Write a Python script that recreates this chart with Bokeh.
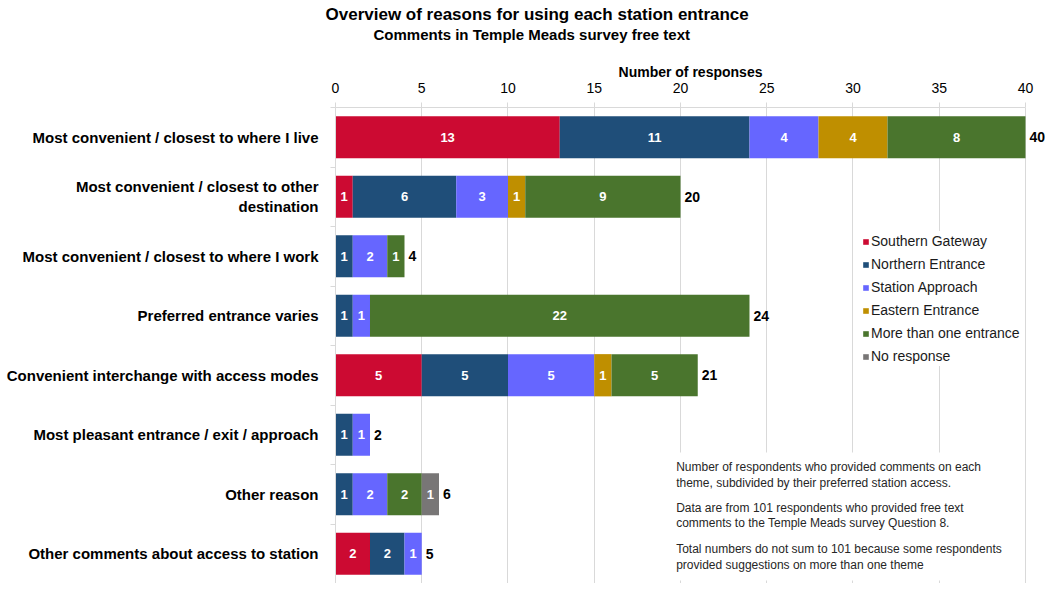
from bokeh.plotting import figure
from bokeh.models import (Range1d, FixedTicker, ColumnDataSource, Label,
                          BoxAnnotation, Title)
from bokeh.core.properties import value
from bokeh.embed import file_html
from bokeh.resources import INLINE

# ---------------- data ----------------
categories = [
    "Most convenient / closest to where I live",
    "Most convenient / closest to other\ndestination",
    "Most convenient / closest to where I work",
    "Preferred entrance varies",
    "Convenient interchange with access modes",
    "Most pleasant entrance / exit / approach",
    "Other reason",
    "Other comments about access to station",
]
series_names = ["Southern Gateway", "Northern Entrance", "Station Approach",
                "Eastern Entrance", "More than one entrance", "No response"]
southern = [13, 1, 0, 0, 5, 0, 0, 2]
northern = [11, 6, 1, 1, 5, 1, 1, 2]
station = [4, 3, 2, 1, 5, 1, 2, 1]
eastern = [4, 1, 0, 0, 1, 0, 0, 0]
more_than_one = [8, 9, 1, 22, 5, 0, 2, 0]
no_response = [0, 0, 0, 0, 0, 0, 1, 0]
series_values = [southern, northern, station, eastern, more_than_one, no_response]
colors = ["#CC0A32", "#1F4E79", "#6666FF", "#BF8F00", "#4A752D", "#787676"]
x_ticks = [0, 5, 10, 15, 20, 25, 30, 35, 40]
note_lines = [
    "Number of respondents who provided comments on each",
    "theme, subdivided by their preferred station access.",
    "Data are from 101 respondents who provided free text",
    "comments to the Temple Meads survey Question 8.",
    "Total numbers do not sum to 101 because some respondents",
    "provided suggestions on more than one theme",
]

n = len(categories)
ypos = [n - i - 0.5 for i in range(n)]

FONT = "Liberation Sans"
GRID = "#d9d9d9"

p = figure(width=1045, height=583, x_range=Range1d(0, 41.16), y_range=Range1d(0, n),
           x_axis_location="above", output_backend="svg", toolbar_location=None,
           title=None, min_border_left=335, min_border_right=0,
           min_border_bottom=0, min_border_top=107)
p.outline_line_color = None
p.background_fill_color = "white"
p.border_fill_color = "white"

# titles (spacer, subtitle, main title stacked outward from the axis)
spacer = Title(text=" ", text_font_size="1px", standoff=15)
sub = Title(text="Comments in Temple Meads survey free text", align="left", offset=38,
            text_font=FONT, text_font_size="15px", text_font_style="bold",
            text_color="#000000", standoff=0)
main = Title(text="Overview of reasons for using each station entrance", align="left",
             offset=-10, text_font=FONT, text_font_size="17px", text_font_style="bold",
             text_color="#000000", standoff=0)
p.add_layout(spacer, "above")
p.add_layout(sub, "above")
p.add_layout(main, "above")

# x axis
xa = p.xaxis[0]
xa.ticker = FixedTicker(ticks=x_ticks)
xa.bounds = (0, 40)
xa.axis_label = "Number of responses"
xa.axis_label_text_font = FONT
xa.axis_label_text_font_size = "14px"
xa.axis_label_text_font_style = "bold"
xa.axis_label_text_color = "#000000"
xa.axis_label_standoff = 0
xa.major_label_text_font = FONT
xa.major_label_text_font_size = "14px"
xa.major_label_text_color = "#000000"
xa.major_label_standoff = 10
xa.axis_line_color = GRID
xa.major_tick_line_color = GRID
xa.major_tick_out = 5
xa.major_tick_in = 0
xa.minor_tick_line_color = None

# y axis
ya = p.yaxis[0]
ya.ticker = FixedTicker(ticks=ypos, minor_ticks=list(range(n + 1)))
ya.major_label_overrides = {y: c for y, c in zip(ypos, categories)}
ya.major_label_text_font = FONT
ya.major_label_text_font_size = "15px"
ya.major_label_text_font_style = "bold"
ya.major_label_text_color = "#000000"
ya.major_label_standoff = 12
ya.major_tick_line_color = None
ya.major_tick_out = 0
ya.major_tick_in = 0
ya.minor_tick_line_color = GRID
ya.minor_tick_out = 5
ya.minor_tick_in = 0
ya.axis_line_color = GRID

p.xgrid.grid_line_color = GRID
p.xgrid.ticker = FixedTicker(ticks=x_ticks)
p.ygrid.grid_line_color = None

# stacked bars
cum = [0] * n
lab_x, lab_y, lab_t = [], [], []
for name, vals, col in zip(series_names, series_values, colors):
    L, R, Y = [], [], []
    for i, v in enumerate(vals):
        if v > 0:
            L.append(cum[i]); R.append(cum[i] + v); Y.append(ypos[i])
            lab_x.append(cum[i] + v / 2); lab_y.append(ypos[i]); lab_t.append(str(v))
        cum[i] += v
    src = ColumnDataSource(dict(left=L, right=R, y=Y))
    p.hbar(y="y", left="left", right="right", height=0.71, source=src,
           fill_color=col, line_color=None, legend_label=name)

p.text(x=lab_x, y=lab_y, text=lab_t, text_font=value(FONT),
       text_font_size="13px", text_font_style="bold", text_color="white",
       text_align="center", text_baseline="middle")

totals = [sum(v[i] for v in series_values) for i in range(n)]
p.text(x=totals, y=ypos, text=[str(t) for t in totals], x_offset=4,
       text_font=value(FONT), text_font_size="14px", text_font_style="bold",
       text_color="#000000", text_align="left", text_baseline="middle")

# note box
p.add_layout(BoxAnnotation(left=19.4, right=39.7, bottom=0.05, top=2.2,
                           fill_color="white", fill_alpha=1, line_color=None))
note_y = [1.966, 1.697, 1.277, 1.025, 0.588, 0.319]
for t, yy in zip(note_lines, note_y):
    p.add_layout(Label(x=19.75, y=yy, text=t, text_font=FONT, text_font_size="12px",
                       text_color="#262626", text_baseline="middle"))

# legend
lg = p.legend[0]
lg.location = (527, 217)
lg.glyph_width = 7
lg.glyph_height = 7
lg.label_text_font = FONT
lg.label_text_font_size = "14px"
lg.label_text_color = "#1a1a1a"
lg.label_height = 20
lg.spacing = 3
lg.padding = 4
lg.margin = 0
lg.label_standoff = 2
lg.border_line_color = None
lg.background_fill_alpha = 1

open("out.html", "w").write(file_html(p, INLINE))
